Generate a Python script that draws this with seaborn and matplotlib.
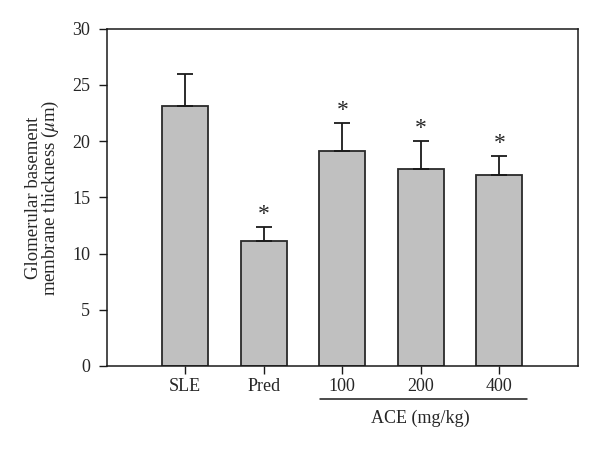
import matplotlib
matplotlib.use("Agg")
import matplotlib.pyplot as plt
import seaborn as sns
import numpy as np
import pandas as pd

groups = ["SLE", "Pred", "100", "200", "400"]
means = [23.1, 11.1, 19.1, 17.5, 17.0]
sems = [2.9, 1.3, 2.5, 2.5, 1.7]
stars = ["", "*", "*", "*", "*"]

sns.set_style("ticks")
plt.rcParams["font.family"] = ["Liberation Serif", "DejaVu Serif"]
plt.rcParams["mathtext.fontset"] = "stix"

df = pd.DataFrame({"group": groups, "mean": means})

fig = plt.figure(figsize=(6, 4.5), dpi=100)
ax = fig.add_axes([0.178, 0.187, 0.785, 0.749])

sns.barplot(data=df, x="group", y="mean", order=groups, ax=ax,
            color="#c0c0c0", saturation=1, width=0.59,
            edgecolor="#2a2a2a", linewidth=1.3, errorbar=None)

x = np.arange(len(groups))
ax.errorbar(x, means, yerr=[np.zeros(len(sems)), sems], fmt="none",
            ecolor="#1a1a1a", elinewidth=1.3, capsize=5.5, capthick=1.3)

for xi, m, s, st in zip(x, means, sems, stars):
    if st:
        ax.text(xi, m + s + 0.15, st, ha="center", va="bottom", fontsize=17)

ax.set_xlim(-1, 5)
ax.set_ylim(0, 30)
ax.set_yticks(range(0, 31, 5))
ax.set_xlabel("")
ax.set_ylabel("Glomerular basement\nmembrane thickness ($\\mu$m)", fontsize=13.5,
              linespacing=0.85, labelpad=8)
ax.tick_params(axis="both", labelsize=13, length=6, width=1, direction="out",
               color="#1a1a1a", pad=3)
ax.tick_params(axis="y", pad=6)
for sp in ax.spines.values():
    sp.set_visible(True)
    sp.set_linewidth(1.1)
    sp.set_color("#1a1a1a")

# ACE group bracket under the dose labels
ax.plot([1.71, 4.35], [-0.098, -0.098], transform=ax.get_xaxis_transform(),
        color="#1a1a1a", lw=1.1, clip_on=False)
ax.text(3.0, -0.155, "ACE (mg/kg)", transform=ax.get_xaxis_transform(),
        ha="center", va="center", fontsize=13)

fig.savefig("out.png", dpi=100)
